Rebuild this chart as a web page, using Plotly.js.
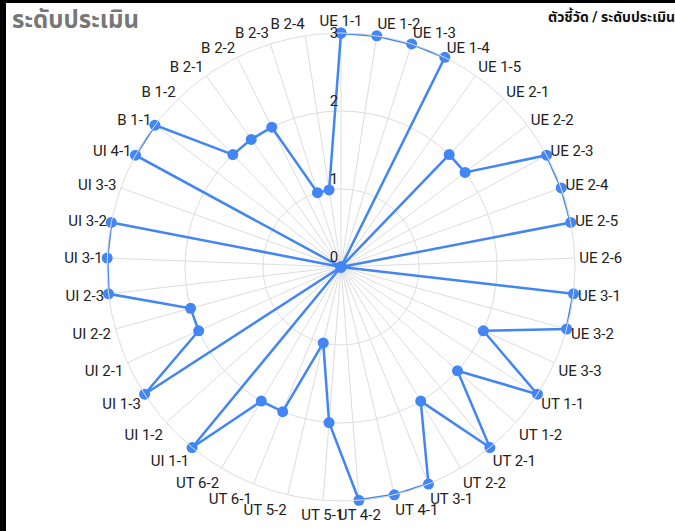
<!DOCTYPE html>
<html>
<head>
<meta charset="utf-8">
<script src="https://cdn.plot.ly/plotly-3.0.1.min.js"></script>
<style>
html, body { margin: 0; padding: 0; background: #000; width: 675px; height: 531px; overflow: hidden; }
#chart { position: absolute; left: 6px; top: 3px; width: 669px; height: 528px; background: #fff; }
</style>
</head>
<body>
<div id="chart"></div>
<script>
const categories = ["UE 1-1","UE 1-2","UE 1-3","UE 1-4","UE 1-5","UE 2-1","UE 2-2","UE 2-3","UE 2-4","UE 2-5","UE 2-6","UE 3-1","UE 3-2","UE 3-3","UT 1-1","UT 1-2","UT 2-1","UT 2-2","UT 3-1","UT 4-1","UT 4-2","UT 5-1","UT 5-2","UT 6-1","UT 6-2","UI 1-1","UI 1-2","UI 1-3","UI 2-1","UI 2-2","UI 2-3","UI 3-1","UI 3-2","UI 3-3","UI 4-1","B 1-1","B 1-2","B 2-1","B 2-2","B 2-3","B 2-4"];
const scores = [3,3,3,3,0,2,2,3,3,3,0,3,3,2,3,2,3,2,3,3,3,2,1,2,2,3,0,3,2,2,3,3,3,0,3,3,2,2,2,1,1];
const radialTicks = [0,1,2,3];
const chartTitle = "ระดับประเมิน";
const seriesName = "ตัวชี้วัด / ระดับประเมิน";

const font = "Roboto, 'Noto Sans Thai', 'Noto Sans', sans-serif";
const W = 669, H = 528, cx = 335, cy = 264, R = 234;
const topTick = radialTicks[radialTicks.length - 1];

const trace = {
  type: "scatterpolar",
  r: scores.concat([scores[0]]),
  theta: categories.concat([categories[0]]),
  mode: "lines+markers",
  name: seriesName,
  line: { color: "#4285f4", width: 2.5 },
  marker: { color: "#4285f4", size: 11 },
  cliponaxis: false,
  showlegend: false
};

const layout = {
  width: W, height: H,
  margin: { l: 0, r: 0, t: 0, b: 0 },
  paper_bgcolor: "#fff",
  font: { family: font, size: 15, color: "#222" },
  title: { text: "<b>" + chartTitle + "</b>", x: 0.009, xanchor: "left", y: 0.985, yanchor: "top",
           font: { family: font, size: 24, color: "#777" } },
  annotations: [{
    text: "<b>" + seriesName + "</b>", xref: "paper", yref: "paper", x: 1, y: 1,
    xanchor: "right", yanchor: "top", showarrow: false, yshift: -2, xshift: 2,
    font: { family: font, size: 14, color: "#111" }
  }],
  polar: {
    domain: { x: [(cx - R) / W, (cx + R) / W], y: [(H - cy - R) / H, (H - cy + R) / H] },
    bgcolor: "#fff",
    angularaxis: {
      type: "category", categoryorder: "array", categoryarray: categories,
      rotation: 90, direction: "clockwise",
      showline: true, linecolor: "#ddd", linewidth: 1,
      gridcolor: "#ddd", gridwidth: 1,
      ticks: "outside", ticklen: 1, tickcolor: "rgba(0,0,0,0)",
      tickfont: { family: font, size: 15, color: "#222" }
    },
    radialaxis: {
      range: [0, 3], tickvals: radialTicks,
      ticktext: radialTicks.map(v => v === topTick ? String(v) : v + "<br> "),
      angle: 90, tickangle: 90, side: "counterclockwise", showline: false, ticks: "",
      gridcolor: "#ddd", gridwidth: 1,
      tickfont: { family: font, size: 15, color: "#222" }
    }
  }
};

Plotly.newPlot("chart", [trace], layout, { displayModeBar: false, staticPlot: true });
</script>
</body>
</html>
